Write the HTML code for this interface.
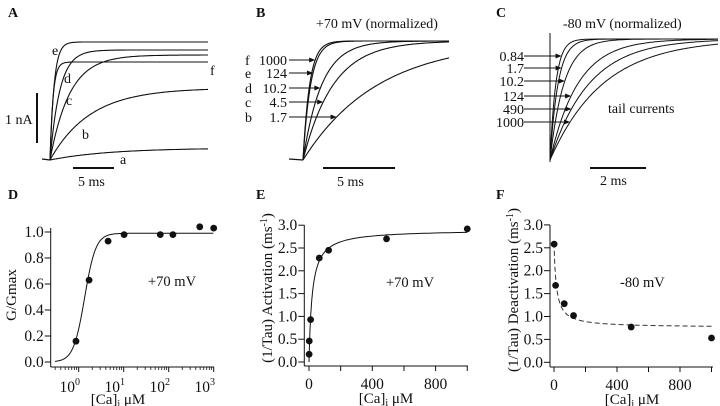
<!DOCTYPE html>
<html><head><meta charset="utf-8"><style>
html,body{margin:0;padding:0;background:#fff;}
svg{display:block;font-family:"Liberation Serif",serif;}
text{fill:#111;}
</style></head><body>
<svg id="fig" width="720" height="406" viewBox="0 0 720 406">
<g font-weight="bold" font-size="14">
<text x="8" y="17">A</text>
<text x="256" y="17">B</text>
<text x="496" y="17">C</text>
<text x="8" y="199">D</text>
<text x="256" y="199">E</text>
<text x="496" y="199">F</text>
</g>
<g id="pA"></g>
<g id="pB"></g>
<g id="pC"></g>
<g id="pD"></g>
<g id="pE"></g>
<g id="pF"></g>
</svg>
<script>
// ---- data ----
const aLabels = ['a','b','c','d','e','f'];
const aAmp = [12, 72, 105, 110, 118, 98];
const aTau = [7.3, 4.9, 2.4, 1.2, 0.5, 0.37];
const bLabels = ['f','e','d','c','b'];
const bConc = ['1000','124','10.2','4.5','1.7'];
const bTau = [0.46, 0.53, 1.3, 2.1, 5.2];
const cConc = ['0.84','1.7','10.2','124','490','1000'];
const cTau = [0.21, 0.29, 0.5, 1.0, 1.4, 1.9];
const dConc = [0.87, 1.7, 4.5, 10.2, 65, 124, 490, 1000];
const dG = [0.16, 0.63, 0.93, 0.98, 0.98, 0.98, 1.04, 1.03];
const dFit = [0.99, 1.35, 3.5];
const eConc = [0.84, 1.7, 10.2, 65, 124, 490, 1000];
const eRate = [0.17, 0.46, 0.93, 2.28, 2.45, 2.7, 2.92];
const eFit = [2.9, 20];
const fConc = [0.84, 10.2, 65, 124, 490, 1000];
const fRate = [2.58, 1.68, 1.28, 1.02, 0.77, 0.53];
const fFit = [0.76, 1.85, 15];
const linTicks = [0, 400, 800];
const rateTicks = [0, 0.5, 1.0, 1.5, 2.0, 2.5, 3.0];
const gTicks = [0, 0.2, 0.4, 0.6, 0.8, 1.0];
const logTicks = [0, 1, 2, 3];

const NS = 'http://www.w3.org/2000/svg';
const TICK_FS = 15.5, TITLE_FS = 15, ANN_FS = 14;
function mk(parent, tag, attrs, txt){
  const e = document.createElementNS(NS, tag);
  for (const k in attrs) e.setAttribute(k, attrs[k]);
  if (txt !== undefined) e.textContent = txt;
  parent.appendChild(e); return e;
}
function pathFrom(pts){ return pts.map((p,i)=>(i?'L':'M')+p[0].toFixed(1)+' '+p[1].toFixed(1)).join(''); }

// ---- Panel A ----
(function(){
  const g = document.getElementById('pA');
  const x0 = 50, y0 = 160, pxms = 8.2, x1 = 208;
  mk(g,'path',{d:'M42 159 L50 160',stroke:'#111','stroke-width':1.2,fill:'none'});
  aLabels.forEach((L,i)=>{
    const pts=[];
    for (let x=x0; x<=x1; x+=1){ const t=(x-x0)/pxms; pts.push([x, y0 - aAmp[i]*(1-Math.exp(-t/aTau[i]))]); }
    const p = mk(g,'path',{d:pathFrom(pts),stroke:'#111','stroke-width':1.1,fill:'none'});
    
    
  });
  const lp = [[52,55,'e'],[64,83,'d'],[66,105,'c'],[82,139,'b'],[120,164,'a'],[210,75,'f']];
  lp.forEach(l=>{ const t=mk(g,'text',{x:l[0],y:l[1],'font-size':ANN_FS},l[2]);
      });
  mk(g,'line',{x1:37,y1:93,x2:37,y2:143,stroke:'#111','stroke-width':2});
  mk(g,'text',{x:5,y:124,'font-size':ANN_FS},'1 nA');
  mk(g,'line',{x1:73,y1:168,x2:114,y2:168,stroke:'#111','stroke-width':2});
  mk(g,'text',{x:78,y:186,'font-size':ANN_FS},'5 ms');
})();

// ---- Panel B ----
(function(){
  const g = document.getElementById('pB');
  const x0 = 303, y0 = 160, pxms = 14.4, x1 = 449, amp = 119;
  mk(g,'path',{d:'M289 159 L303 160',stroke:'#111','stroke-width':1.2,fill:'none'});
  mk(g,'text',{x:316,y:28,'font-size':ANN_FS},'+70 mV (normalized)');
  const ys = [60,73,88,102,117];
  bTau.forEach((tau,i)=>{
    const pts=[];
    for (let x=x0; x<=x1; x+=1){ const t=(x-x0)/pxms; pts.push([x, y0 - amp*(1-Math.exp(-t/tau))]); }
    const p = mk(g,'path',{d:pathFrom(pts),stroke:'#111','stroke-width':1.1,fill:'none'});
    
    
    const frac = (y0-ys[i])/amp; const xa = x0 + pxms*(-tau*Math.log(1-frac));
    mk(g,'line',{x1:289,y1:ys[i],x2:xa-4,y2:ys[i],stroke:'#111','stroke-width':1});
    mk(g,'path',{d:`M${xa} ${ys[i]} L${xa-6} ${ys[i]-2.5} L${xa-6} ${ys[i]+2.5}Z`,fill:'#111'});
    mk(g,'text',{x:245,y:ys[i]+5,'font-size':ANN_FS},bLabels[i]);
    mk(g,'text',{x:287,y:ys[i]+5,'font-size':ANN_FS,'text-anchor':'end'},bConc[i]);
  });
  mk(g,'line',{x1:323,y1:168,x2:395,y2:168,stroke:'#111','stroke-width':2});
  mk(g,'text',{x:337,y:186,'font-size':ANN_FS},'5 ms');
})();

// ---- Panel C ----
(function(){
  const g = document.getElementById('pC');
  const x0 = 550, y0 = 160, pxms = 28, x1 = 718, amp = 121;
  mk(g,'line',{x1:550,y1:33,x2:550,y2:162,stroke:'#111','stroke-width':1});
  mk(g,'text',{x:563,y:28,'font-size':ANN_FS},'-80 mV (normalized)');
  mk(g,'text',{x:608,y:113,'font-size':ANN_FS},'tail currents');
  const ys = [56,68,81,96,109,122];
  cTau.forEach((tau,i)=>{
    const pts=[];
    for (let x=x0; x<=x1; x+=1){ const t=(x-x0)/pxms; pts.push([x, y0 - amp*(1-Math.exp(-t/tau))]); }
    const p = mk(g,'path',{d:pathFrom(pts),stroke:'#111','stroke-width':1,fill:'none'});
    
    
    const frac = (y0-ys[i])/amp; const xa = x0 + pxms*(-tau*Math.log(1-frac));
    mk(g,'line',{x1:524,y1:ys[i],x2:xa-4,y2:ys[i],stroke:'#111','stroke-width':1});
    mk(g,'path',{d:`M${xa} ${ys[i]} L${xa-6} ${ys[i]-2.5} L${xa-6} ${ys[i]+2.5}Z`,fill:'#111'});
    mk(g,'text',{x:524,y:ys[i]+5,'font-size':ANN_FS,'text-anchor':'end'},cConc[i]);
  });
  mk(g,'line',{x1:590,y1:168,x2:646,y2:168,stroke:'#111','stroke-width':2});
  mk(g,'text',{x:600,y:185,'font-size':ANN_FS},'2 ms');
})();

function yAxis(g, ax, yf, ticks, fmt, top, bottom){
  mk(g,'line',{x1:ax,y1:top,x2:ax,y2:bottom,stroke:'#111','stroke-width':1});
  ticks.forEach(v=>{
    const y=yf(v);
    mk(g,'line',{x1:ax-6,y1:y,x2:ax,y2:y,stroke:'#111','stroke-width':1});
    mk(g,'text',{x:ax-7,y:y+5,'font-size':TICK_FS,'text-anchor':'end'},fmt(v));
  });
}
function dots(g, xs, ys, xf, yf, name){
  xs.forEach((v,i)=>{
    const c=mk(g,'circle',{cx:xf(v),cy:yf(ys[i]),r:3.4,fill:'#111'});
     
  });
}
function xTitle(g,x,y){
  const t=mk(g,'text',{x:x,y:y,'font-size':TITLE_FS,'text-anchor':'middle'},'[Ca]');
  mk(t,'tspan',{dy:3,'font-size':10},'i'); mk(t,'tspan',{dy:-3},' μM');
}

// ---- Panel D ----
(function(){
  const g = document.getElementById('pD');
  const xf = v=>78.7+45*Math.log10(v), yf = v=>362-130*v;
  yAxis(g,50.7,yf,gTicks,v=>v.toFixed(1),228,367);
  mk(g,'line',{x1:50.7,y1:367,x2:214,y2:367,stroke:'#111','stroke-width':1});
  logTicks.forEach(d=>{
    const x=xf(Math.pow(10,d));
    mk(g,'line',{x1:x,y1:367,x2:x,y2:372,stroke:'#111','stroke-width':1});
    const t=mk(g,'text',{x:x-9,y:392,'font-size':TICK_FS,'text-anchor':'middle'},'10');
    mk(t,'tspan',{dy:-7,'font-size':10},String(d));
  });
  for(let d=-1; d<3; d++) for(let m=2;m<10;m++){ const x=xf(m*Math.pow(10,d)); if(x<51) continue;
    mk(g,'line',{x1:x,y1:367,x2:x,y2:370,stroke:'#111','stroke-width':0.8}); }
  const pts=[]; for(let l=-0.53;l<=3.001;l+=0.02){const c=Math.pow(10,l);
    const v=dFit[0]*Math.pow(c,dFit[2])/(Math.pow(c,dFit[2])+Math.pow(dFit[1],dFit[2])); pts.push([xf(c),yf(v)]);}
  mk(g,'path',{d:pathFrom(pts),stroke:'#111','stroke-width':1,fill:'none',});
  dots(g,dConc,dG,xf,yf,'g-gmax');
  mk(g,'text',{x:148,y:286,'font-size':ANN_FS+0.5},'+70 mV');
  xTitle(g,118,404);
  mk(g,'text',{x:0,y:0,'font-size':TITLE_FS,'text-anchor':'middle',transform:'translate(16,295) rotate(-90)'},'G/Gmax');
})();

// ---- Panel E ----
(function(){
  const g = document.getElementById('pE');
  const xf = v=>309+v*63.3/400, yf = v=>362-v*45.6;
  yAxis(g,304.3,yf,rateTicks,v=>v.toFixed(1),225,366);
  mk(g,'line',{x1:304.3,y1:366,x2:468,y2:366,stroke:'#111','stroke-width':1});
  [0,200,400,600,800,1000].forEach(v=>{ const x=xf(v);
    mk(g,'line',{x1:x,y1:366,x2:x,y2:371,stroke:'#111','stroke-width':1});});
  linTicks.forEach(v=>mk(g,'text',{x:xf(v),y:389,'font-size':TICK_FS,'text-anchor':'middle'},String(v)));
  const pts=[]; for(let c=0;c<=1000;c+=(c<100?1:10)){ pts.push([xf(c),yf(eFit[0]*c/(c+eFit[1]))]); }
  mk(g,'path',{d:pathFrom(pts),stroke:'#111','stroke-width':1,fill:'none',});
  dots(g,eConc,eRate,xf,yf,'activation');
  mk(g,'text',{x:386,y:287,'font-size':ANN_FS+0.5},'+70 mV');
  xTitle(g,386,403);
  const yt=mk(g,'text',{x:0,y:0,'font-size':TITLE_FS,'text-anchor':'middle',transform:'translate(272,288) rotate(-90)'},'(1/Tau) Activation (ms');
  mk(yt,'tspan',{dy:-5,'font-size':10},'-1'); mk(yt,'tspan',{dy:5},')');
})();

// ---- Panel F ----
(function(){
  const g = document.getElementById('pF');
  const xf = v=>554+v*63/400, yf = v=>362.3-v*45.8;
  yAxis(g,550,yf,rateTicks,v=>v.toFixed(1),225,367);
  mk(g,'line',{x1:550,y1:367,x2:713,y2:367,stroke:'#111','stroke-width':1});
  [0,200,400,600,800,1000].forEach(v=>{ const x=xf(v);
    mk(g,'line',{x1:x,y1:367,x2:x,y2:372,stroke:'#111','stroke-width':1});});
  linTicks.forEach(v=>mk(g,'text',{x:xf(v),y:390,'font-size':TICK_FS,'text-anchor':'middle'},String(v)));
  const pts=[]; for(let c=0;c<=1000;c+=(c<100?1:10)){ pts.push([xf(c),yf(fFit[0]+fFit[1]*fFit[2]/(c+fFit[2]))]); }
  mk(g,'path',{d:pathFrom(pts),stroke:'#333','stroke-width':1,fill:'none','stroke-dasharray':'5,3',});
  dots(g,fConc,fRate,xf,yf,'deactivation');
  mk(g,'text',{x:620,y:287,'font-size':ANN_FS+0.5},'-80 mV');
  xTitle(g,632,404);
  const yt=mk(g,'text',{x:0,y:0,'font-size':TITLE_FS,'text-anchor':'middle',transform:'translate(518,290) rotate(-90)'},'(1/Tau) Deactivation (ms');
  mk(yt,'tspan',{dy:-5,'font-size':10},'-1'); mk(yt,'tspan',{dy:5},')');
})();
</script>
</body></html>
